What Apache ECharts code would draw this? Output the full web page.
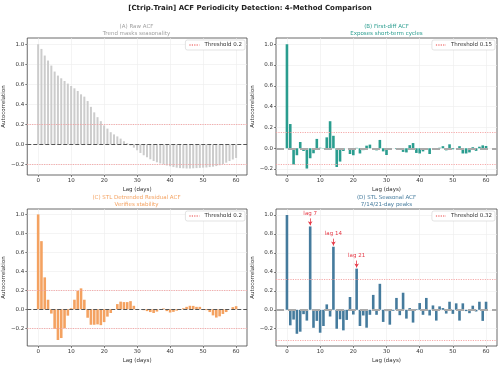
<!DOCTYPE html>
<html><head><meta charset="utf-8">
<script src="https://cdn.jsdelivr.net/npm/echarts@6/dist/echarts.min.js"></script>
<style>html,body{margin:0;padding:0;background:#fff}#c{width:500px;height:365px}</style>
</head><body><div id="c"></div>
<script>
// ---- data ----
const lags = [0,1,2,3,4,5,6,7,8,9,10,11,12,13,14,15,16,17,18,19,20,21,22,23,24,25,26,27,28,29,30,31,32,33,34,35,36,37,38,39,40,41,42,43,44,45,46,47,48,49,50,51,52,53,54,55,56,57,58,59,60];
const rawAcf = [1.0,0.953,0.887,0.837,0.787,0.727,0.687,0.66,0.633,0.607,0.583,0.56,0.533,0.5,0.477,0.433,0.375,0.32,0.272,0.232,0.19,0.158,0.122,0.1,0.08,0.058,0.032,0.012,-0.01,-0.032,-0.058,-0.085,-0.108,-0.128,-0.148,-0.165,-0.178,-0.19,-0.2,-0.21,-0.218,-0.226,-0.232,-0.236,-0.238,-0.24,-0.24,-0.238,-0.236,-0.234,-0.232,-0.23,-0.226,-0.222,-0.216,-0.208,-0.196,-0.182,-0.166,-0.15,-0.135];
const diffAcf = [1.0,0.233,-0.157,-0.067,0.06,-0.026,-0.195,-0.096,-0.048,0.09,0.005,-0.003,0.105,0.26,0.12,-0.18,-0.128,-0.026,0.0,-0.055,-0.067,0.004,-0.05,-0.018,0.025,0.035,-0.004,-0.02,0.08,-0.03,-0.065,0.0,0.0,-0.008,-0.015,-0.035,-0.04,0.03,0.05,-0.045,-0.05,-0.03,-0.005,-0.055,0.0,0.0,0.005,0.02,-0.02,0.038,-0.01,0.0,0.02,-0.05,-0.05,-0.04,0.01,-0.025,0.015,0.028,0.022];
const residAcf = [1.0,0.718,0.336,0.1,-0.046,-0.207,-0.325,-0.304,-0.2,-0.068,0.01,0.1,0.193,0.22,0.1,-0.09,-0.164,-0.164,-0.16,-0.168,-0.136,-0.078,-0.04,0.0,0.054,0.08,0.075,0.075,0.085,0.036,0.0,0.0,-0.01,-0.02,-0.03,-0.04,-0.025,0.0,0.008,-0.02,-0.035,-0.028,-0.015,-0.008,0.01,0.025,0.036,0.035,0.025,0.025,0.0,-0.01,-0.03,-0.065,-0.088,-0.075,-0.05,-0.03,0.0,0.022,0.032];
const seasonalAcf = [1.0,-0.164,-0.103,-0.253,-0.231,-0.046,-0.114,0.879,-0.19,-0.117,-0.242,-0.171,0.057,-0.071,0.665,-0.2,-0.1,-0.217,-0.107,0.135,-0.05,0.434,-0.171,-0.06,-0.189,-0.053,0.157,-0.053,0.274,-0.128,-0.014,-0.157,-0.01,0.125,-0.057,0.18,-0.093,0.018,-0.135,0.007,0.071,-0.053,0.125,-0.06,0.046,-0.114,0.036,0.018,-0.04,0.085,-0.043,0.068,-0.114,0.068,-0.014,-0.036,0.043,-0.018,0.085,-0.117,0.085];
const thresholds = [0.2, 0.15, 0.2, 0.32];
const peakLags = [7, 14, 21];
const xTicks = [0,10,20,30,40,50,60];
const yTicksA = [-0.2,0,0.2,0.4,0.6,0.8,1.0];
const yTicksB = [-0.2,0,0.2,0.4,0.6,0.8,1.0];
const yTicksC = [-0.2,0,0.2,0.4,0.6,0.8,1.0];
const yTicksD = [-0.2,0,0.2,0.4,0.6,0.8,1.0];
const titleLines = [
  ['(A) Raw ACF','Trend masks seasonality'],
  ['(B) First-diff ACF','Exposes short-term cycles'],
  ['(C) STL Detrended Residual ACF','Verifies stability'],
  ['(D) STL Seasonal ACF','7/14/21-day peaks']
];
const mainTitle = '[Ctrip.Train] ACF Periodicity Detection: 4-Method Comparison';

// ---- layout / style ----
const FONT = '"DejaVu Sans", sans-serif';
const panels = [
  {left:26, top:38, w:221, h:137, ymin:-0.305, ymax:1.062, vals:rawAcf, ticks:yTicksA, color:'#cccccc', tcolor:'#a0a0a0', bw:2.0, zero:{color:'#555',width:1}},
  {left:276, top:38, w:221, h:137, ymin:-0.257, ymax:1.06, vals:diffAcf, ticks:yTicksB, color:'#2a9d8f', tcolor:'#2a9d8f', bw:2.6, zero:{color:'#aaa',width:2}},
  {left:26, top:209, w:221, h:137, ymin:-0.388, ymax:1.057, vals:residAcf, ticks:yTicksC, color:'#f4a261', tcolor:'#f4a261', bw:2.6, zero:{color:'#555',width:1}},
  {left:276, top:209, w:221, h:137, ymin:-0.382, ymax:1.063, vals:seasonalAcf, ticks:yTicksD, color:'#457b9d', tcolor:'#457b9d', bw:2.6, zero:{color:'#aaa',width:2}}
];
const fmt = v => v.toFixed(1).replace('-', '\u2212');
const grid=[], xAxis=[], yAxis=[], series=[], legend=[], graphic=[];
graphic.push({type:'text', style:{text:mainTitle, x:250, y:8, textAlign:'center', textVerticalAlign:'middle', fill:'#222', font:'bold 7px '+FONT}});
panels.forEach((p,i)=>{
  grid.push({left:p.left, top:p.top, width:p.w, height:p.h, show:true, borderColor:'#444', borderWidth:0.8, backgroundColor:'transparent'});
  xAxis.push({type:'value', gridIndex:i, min:-3.3, max:63.3,
    axisLine:{show:false, onZero:false},
    axisTick:{show:true, customValues:xTicks, length:2, lineStyle:{color:'#333', width:0.6}},
    axisLabel:{customValues:xTicks, fontSize:5.5, color:'#333', margin:3, fontFamily:FONT},
    splitLine:{show:true, customValues:xTicks, lineStyle:{color:'#ececec', width:0.6}},
    name:'Lag (days)', nameLocation:'middle', nameGap:12, nameTextStyle:{fontSize:5.5, color:'#333', fontFamily:FONT}});
  yAxis.push({type:'value', gridIndex:i, min:p.ymin, max:p.ymax,
    axisLine:{show:false, onZero:false},
    axisTick:{show:true, customValues:p.ticks, length:2, lineStyle:{color:'#333', width:0.6}},
    axisLabel:{customValues:p.ticks, fontSize:5.5, color:'#333', margin:3, formatter:fmt, fontFamily:FONT},
    splitLine:{show:true, customValues:p.ticks, lineStyle:{color:'#ececec', width:0.6}},
    name:'Autocorrelation', nameLocation:'middle', nameGap:16, nameTextStyle:{fontSize:5.5, color:'#333', fontFamily:FONT}});
  const thr = thresholds[i];
  const thrStyle = {color:'#f4a0a0', type:[1.2,1.2], width:0.9};
  const mlData = [
    {yAxis:0, lineStyle:p.zero},
    {yAxis:thr, lineStyle:thrStyle},
    {yAxis:-thr, lineStyle:thrStyle}
  ];
  if (i===3) {
    peakLags.forEach(l=>{
      const v = p.vals[lags.indexOf(l)];
      mlData.push([
        {coord:[l, v+0.085], symbol:'none', lineStyle:{color:'#e63946', width:0.8, type:'solid'},
         label:{show:true, position:'start', distance:2, formatter:'lag '+l, color:'#e63946', fontSize:5.5, fontFamily:FONT}},
        {coord:[l, v+0.012], symbol:'arrow', symbolSize:[3.5,4]}
      ]);
    });
  }
  series.push({type:'bar', xAxisIndex:i, yAxisIndex:i, barWidth:p.bw,
    data: lags.map((l,k)=>[l, p.vals[k]]), itemStyle:{color:p.color}, z:3,
    markLine:{silent:true, symbol:['none','none'], label:{show:false}, animation:false, data:mlData}});
  const lname = 'Threshold ' + thr;
  series.push({type:'line', name:lname, xAxisIndex:i, yAxisIndex:i, data:[], symbol:'none', itemStyle:{color:'#f4a0a0'}, lineStyle:thrStyle});
  legend.push({data:[lname], right:500-(p.left+p.w)+2, top:p.top+2, itemWidth:10, itemHeight:5, itemGap:4,
    itemStyle:{opacity:0},
    textStyle:{fontSize:5.5, color:'#333', fontFamily:FONT}, borderColor:'#d0d0d0', borderWidth:0.6, borderRadius:2,
    padding:[2,3], backgroundColor:'#fff'});
  const cx = p.left + p.w/2;
  graphic.push({type:'text', style:{text:titleLines[i][0]+'\n'+titleLines[i][1], x:cx, y:p.top-8, textAlign:'center', textVerticalAlign:'middle', fill:p.tcolor, font:'5.5px '+FONT, lineHeight:6.6}});
});
const chart = echarts.init(document.getElementById('c'), null, {renderer:'canvas'});
chart.setOption({animation:false, backgroundColor:'#fff', textStyle:{fontFamily:FONT}, grid, xAxis, yAxis, series, legend, graphic});
</script></body></html>
